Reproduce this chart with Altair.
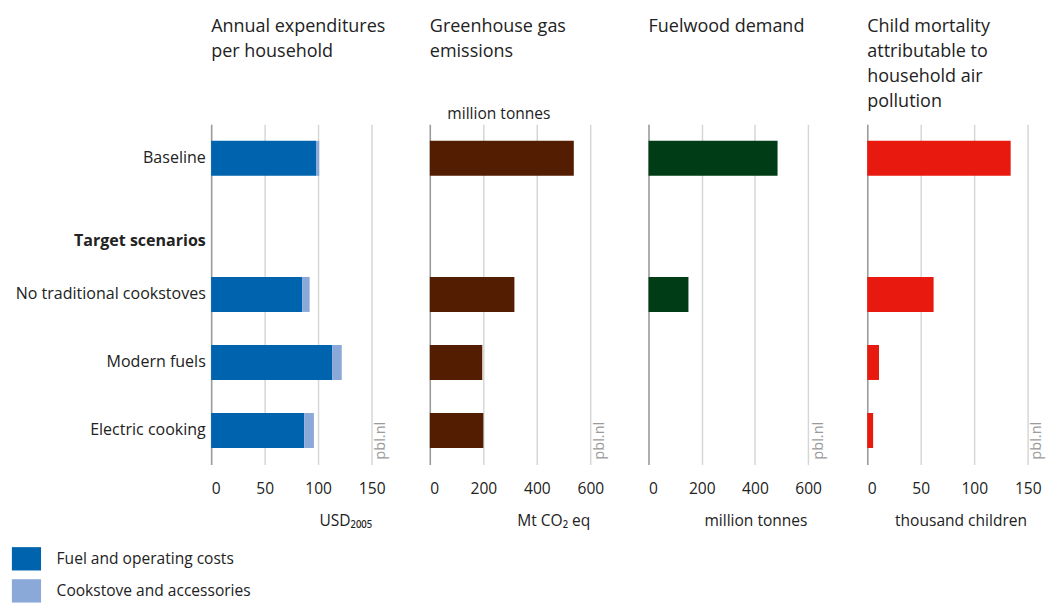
import altair as alt
import pandas as pd

FONT = "Open Sans"

scenarios = ["Baseline", "Target scenarios", "No traditional cookstoves", "Modern fuels", "Electric cooking"]
bar_scenarios = ["Baseline", "No traditional cookstoves", "Modern fuels", "Electric cooking"]

components = ["Fuel and operating costs", "Cookstove and accessories"]
fuel_costs = [98, 85, 113, 87]
stove_costs = [3, 7, 9, 9]

ghg_emissions = [538, 316, 196, 200]
fuelwood_demand = [485, 150, 0, 0]
child_mortality = [134, 62, 11, 5.5]

blue = "#0063ae"
light_blue = "#8aa8d8"
brown = "#521d00"
green = "#003d16"
red = "#e8190f"

W, H = 185, 350

ys = alt.Scale(domain=scenarios, paddingInner=0.486, paddingOuter=0.243)

rows = []
for i, s in enumerate(bar_scenarios):
    rows.append({"scenario": s, "component": components[0], "ord": 0, "value": fuel_costs[i]})
    rows.append({"scenario": s, "component": components[1], "ord": 1, "value": stove_costs[i]})
df1 = pd.DataFrame(rows)


def xaxis(title, values, title_x):
    return alt.Axis(
        values=values, title=title, grid=True, gridColor="#d6d6d6", gridWidth=1.5,
        ticks=False, domain=False, labelFontSize=16, labelColor="#222", labelFont=FONT,
        labelPadding=17, titlePadding=17, titleFontWeight="normal", titleFontSize=16,
        titleColor="#222", titleFont=FONT, titleX=title_x, titleAlign="center",
    )


def title(lines):
    lines = lines + [""] * (4 - len(lines))
    return alt.TitleParams(
        text=lines, anchor="start", frame="group", fontSize=18.5, fontWeight="normal",
        lineHeight=26, offset=-4, color="#222", font=FONT,
    )


first_y_axis = alt.Axis(
    title=None, ticks=False, domainColor="#9a9a9a", domainWidth=1.5, labelFontSize=16.5,
    labelColor="#222", labelFont=FONT, labelPadding=6, grid=False, labelLimit=300,
    labelFontWeight={"condition": {"test": "datum.value == 'Target scenarios'", "value": "bold"}, "value": "normal"},
    labelOffset={"condition": {"test": "datum.value == 'Target scenarios'", "value": 15}, "value": 0},
)
other_y_axis = alt.Axis(title=None, ticks=False, labels=False, domainColor="#9a9a9a", domainWidth=1.5, grid=False)


def pbl():
    return alt.Chart(pd.DataFrame({"t": ["pbl.nl"]})).mark_text(
        angle=270, align="left", baseline="middle", color="#9a9a9a", fontSize=15, font=FONT
    ).encode(x=alt.value(W - 11), y=alt.value(H - 5), text="t:N")


def unit_label(visible):
    return alt.Chart(pd.DataFrame({"t": ["million tonnes"]})).mark_text(
        align="left", baseline="middle", fontSize=16, font=FONT, color="#222",
        opacity=1 if visible else 0,
    ).encode(x=alt.value(18), y=alt.value(-10), text="t:N")


bars1 = alt.Chart(df1).mark_bar().encode(
    y=alt.Y("scenario:N", scale=ys, axis=first_y_axis),
    x=alt.X("value:Q", stack="zero", scale=alt.Scale(domain=[0, 168], nice=False),
            axis=xaxis("USD₂₀₀₅", [0, 50, 100, 150], 138)),
    color=alt.Color("component:N", scale=alt.Scale(domain=components, range=[blue, light_blue]),
                    legend=alt.Legend(title=None, orient="none", legendX=-205, legendY=432,
                                      symbolType="M-1,-0.8H1V0.8H-1Z", symbolSize=900,
                                      symbolStrokeWidth=0, labelFontSize=16, labelFont=FONT,
                                      labelColor="#222", labelOffset=16, rowPadding=6,
                                      labelLimit=400)),
    order=alt.Order("ord:Q"),
)
p1 = alt.layer(bars1, pbl(), unit_label(False)).properties(
    width=W, height=H, title=title(["Annual expenditures", "per household"]))


def single(values, color, dmax, ticks, xtitle, title_x, ttl, show_unit=False):
    df = pd.DataFrame({"scenario": bar_scenarios, "value": values})
    bars = alt.Chart(df).mark_bar(color=color).encode(
        y=alt.Y("scenario:N", scale=ys, axis=other_y_axis),
        x=alt.X("value:Q", scale=alt.Scale(domain=[0, dmax], nice=False), axis=xaxis(xtitle, ticks, title_x)),
    )
    return alt.layer(bars, pbl(), unit_label(show_unit)).properties(width=W, height=H, title=title(ttl))


p2 = single(ghg_emissions, brown, 672, [0, 200, 400, 600], "Mt CO₂ eq", 127,
            ["Greenhouse gas", "emissions"], show_unit=True)
p3 = single(fuelwood_demand, green, 676, [0, 200, 400, 600], "million tonnes", 110, ["Fuelwood demand"])
p4 = single(child_mortality, red, 168, [0, 50, 100, 150], "thousand children", 96,
            ["Child mortality", "attributable to", "household air", "pollution"])

chart = alt.hconcat(p1, p2, p3, p4, spacing=40).configure_view(stroke=None).properties(
    padding={"left": 4, "top": 0, "right": 2, "bottom": 0}
)

chart.save("out.html", embed_options={"renderer": "svg", "actions": False})
